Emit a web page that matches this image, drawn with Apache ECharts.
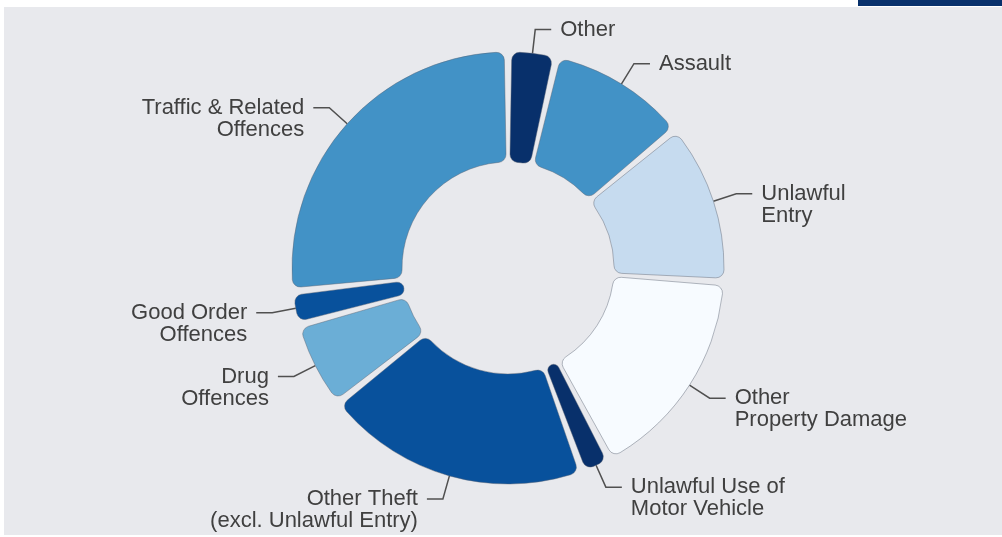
<!DOCTYPE html>
<html>
<head>
<meta charset="utf-8">
<script src="https://cdn.jsdelivr.net/npm/echarts@6/dist/echarts.min.js"></script>
<style>
  html, body { margin: 0; padding: 0; background: #fff; }
  #wrap { position: relative; width: 1002px; height: 537px; overflow: hidden; }
  #topbar { position: absolute; left: 858px; top: 0; width: 144px; height: 6px; background: #08306b; }
  #offence_pie { position: absolute; left: 4px; top: 7px; width: 998px; height: 528px; }
</style>
</head>
<body>
<div id="wrap">
  <div id="topbar"></div>
  <div id="offence_pie"></div>
</div>
<script>
// 数据：按顺时针，从12点方向开始
var categories = [
    'Other',
    'Assault',
    'Unlawful\nEntry',
    'Other\nProperty Damage',
    'Unlawful Use of\nMotor Vehicle',
    'Other Theft\n(excl. Unlawful Entry)',
    'Drug\nOffences',
    'Good Order\nOffences',
    'Traffic & Related\nOffences'
];
var values = [3.6, 10.3, 12.0, 16.1, 2.2, 19.8, 6.4, 2.5, 26.6];
var colors = ['#08306b', '#4292c6', '#c6dbef', '#f7fbff', '#08306b', '#08519c', '#6baed6', '#08519c', '#4292c6'];

var offence_pie = echarts.init(document.getElementById('offence_pie'));

var pie_data = categories.map(function (name, i) {
    return {
        name: name,
        value: values[i],
        itemStyle: { color: colors[i] }
    };
});

var offence_pie_option = {
    backgroundColor: '#e8e9ed',
    animation: false,
    series: [{
        type: 'pie',
        center: [504, 261],
        radius: [106, 216],
        startAngle: 90,
        clockwise: true,
        padAngle: 2,
        avoidLabelOverlap: false,
        minShowLabelAngle: 0,
        labelLayout: { hideOverlap: false },
        itemStyle: {
            borderRadius: 8,
            borderColor: 'rgba(90, 100, 115, 0.45)',
            borderWidth: 1
        },
        label: {
            show: true,
            position: 'outside',
            color: '#404040',
            fontFamily: 'Liberation Sans, Arial, sans-serif',
            fontSize: 22,
            lineHeight: 22,
            distanceToLabelLine: 9,
            // 两行标签前加空行，让标签线对准第一行
            formatter: function (p) {
                return p.name.indexOf('\n') >= 0 ? '\n' + p.name : p.name;
            }
        },
        labelLine: {
            show: true,
            length: 24,
            length2: 16,
            lineStyle: { color: '#505050', width: 1.5 }
        },
        data: pie_data
    }]
};

offence_pie.setOption(offence_pie_option);
</script>
</body>
</html>
